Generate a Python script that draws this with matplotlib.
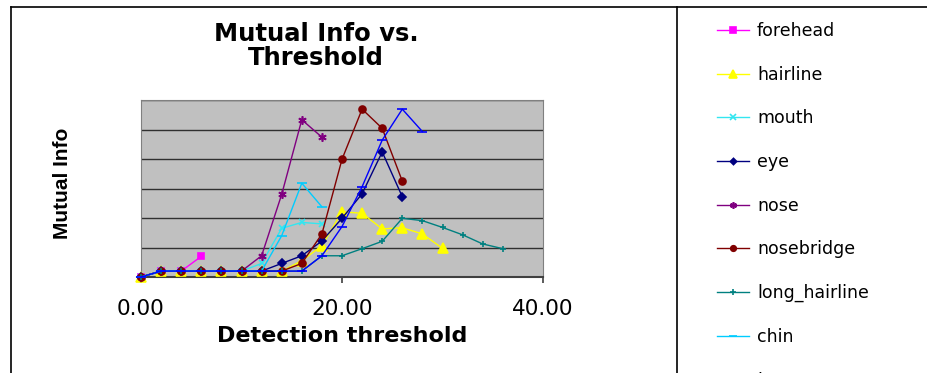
import matplotlib.pyplot as plt
from matplotlib.lines import Line2D

# values (x step is 2, every series starts at 0)
forehead = [0, 0.2, 0.2, 0.7]
hairline = [0, 0.2, 0.2, 0.2, 0.2, 0.2, 0.2, 0.2, 0.55, 1.06, 2.21, 2.16, 1.63, 1.67, 1.46, 0.97]
mouth = [0, 0.2, 0.2, 0.2, 0.2, 0.2, 0.46, 1.65, 1.85, 1.8]
eye = [0, 0.2, 0.2, 0.2, 0.2, 0.2, 0.2, 0.46, 0.72, 1.22, 1.99, 2.82, 4.24, 2.72]
nose = [0, 0.2, 0.2, 0.2, 0.2, 0.2, 0.72, 2.8, 5.33, 4.74]
nosebridge = [0, 0.2, 0.2, 0.2, 0.2, 0.2, 0.2, 0.2, 0.46, 1.46, 3.99, 5.69, 5.04, 3.25]
long_hairline = [0, 0.2, 0.2, 0.2, 0.2, 0.2, 0.2, 0.2, 0.2, 0.72, 0.72, 0.96, 1.21, 1.99, 1.91, 1.68, 1.43, 1.12, 0.96]
chin = [0, 0.2, 0.2, 0.2, 0.2, 0.2, 0.2, 1.4, 3.18, 2.38]
# ninth series: its legend label is cut off at the bottom of the image
l_series = [0, 0.2, 0.2, 0.2, 0.2, 0.2, 0.2, 0.2, 0.2, 0.72, 1.71, 3.06, 4.64, 5.69, 4.93]

names = ['forehead', 'hairline', 'mouth', 'eye', 'nose', 'nosebridge',
         'long_hairline', 'chin', 'l']
series = [forehead, hairline, mouth, eye, nose, nosebridge, long_hairline, chin, l_series]
x_step = 2
xticks = [0, 20, 40]
xtick_labels = ['0.00', '20.00', '40.00']

colors = ['#FF00FF', '#FFFF00', '#33E6F0', '#000080', '#800080', '#800000',
          '#008080', '#00CCFF', '#0000FF']
markers = ['s', '^', 'x', 'D', (6, 2, 0), 'o', '+', '_', '_']
msizes = [5, 7, 5, 4, 6, 5, 5, 7, 7]

W, H = 927, 373
fig = plt.figure(figsize=(W / 100, H / 100), dpi=100)
plt.rcParams['font.family'] = 'DejaVu Sans'

ax = fig.add_axes([141 / W, 1 - 277 / H, (543 - 141) / W, (277 - 100) / H])
ax.set_facecolor('#C0C0C0')

for name, vals, c, m, ms in zip(names, series, colors, markers, msizes):
    xs = [i * x_step for i in range(len(vals))]
    ax.plot(xs, vals, color=c, marker=m, markersize=ms, linewidth=1,
            markeredgewidth=1.2, label=name, clip_on=False, zorder=3)

ax.set_xlim(0, 40)
ax.set_ylim(0, 6)
ax.set_yticks([1, 2, 3, 4, 5, 6])
ax.set_yticklabels([])
ax.tick_params(axis='y', length=0)
ax.grid(axis='y', color='#303030', linewidth=1)
ax.set_xticks(xticks)
ax.set_xticklabels(xtick_labels, fontsize=15.5)
ax.tick_params(axis='x', direction='out', length=4, width=1.2, pad=12, color='#404040')
for s in ['left', 'right', 'top']:
    ax.spines[s].set_color('#808080')
ax.spines['bottom'].set_color('#404040')
ax.spines['bottom'].set_linewidth(1.5)

fig.text(316 / W, 1 - 46 / H, 'Mutual Info vs.\nThreshold', ha='center', va='center',
         fontsize=17.5, fontweight='bold', linespacing=1.05)
fig.text(342 / W, 1 - 336 / H, 'Detection threshold', ha='center', va='center',
         fontsize=16, fontweight='bold')
fig.text(62 / W, 1 - 183 / H, 'Mutual Info', ha='center', va='center', rotation=90,
         fontsize=15, fontweight='bold', family='Liberation Sans')

# outer chart frame and legend box edge
fig.add_artist(Line2D([11 / W, 1], [1 - 7 / H, 1 - 7 / H], color='black', linewidth=1.2))
fig.add_artist(Line2D([11 / W, 11 / W], [0, 1 - 7 / H], color='black', linewidth=1.2))
fig.add_artist(Line2D([677 / W, 677 / W], [0, 1 - 7 / H], color='black', linewidth=1.2))

handles, labels = ax.get_legend_handles_labels()
fig.legend(handles, labels, loc='upper left', bbox_to_anchor=(717 / W, 1 - 22 / H),
           frameon=False, fontsize=12.5, borderpad=0, borderaxespad=0,
           handlelength=1.85, handletextpad=0.45, labelspacing=1.48, markerscale=0.8)

fig.savefig('out.png', dpi=100)
